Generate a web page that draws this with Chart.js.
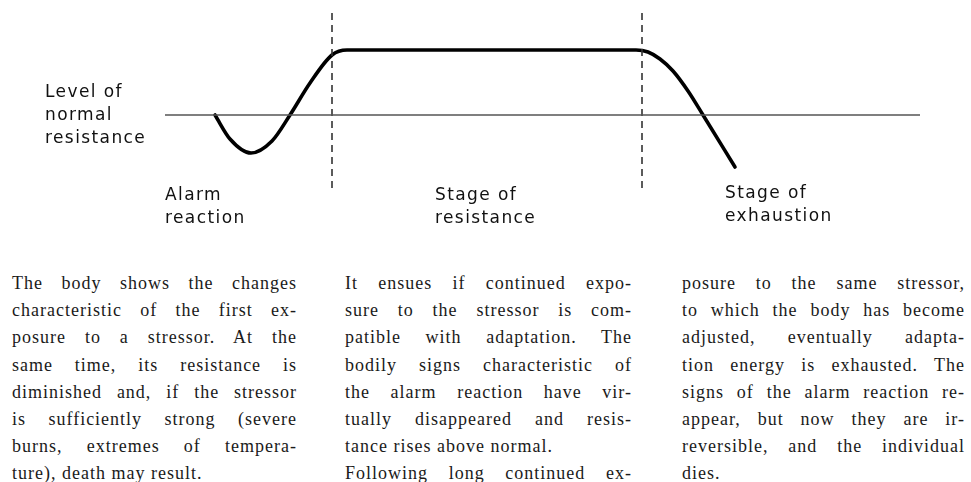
<!DOCTYPE html>
<html>
<head>
<meta charset="utf-8">
<script src="https://cdn.jsdelivr.net/npm/chart.js@4"></script>
<style>
    body { margin: 0; background: #fff; }
    #wrap { position: relative; width: 971px; height: 482px; overflow: hidden; }
    #chart { position: absolute; left: 0; top: 0; }
    .lbl {
        position: absolute;
        font-family: 'DejaVu Sans', sans-serif;
        font-size: 17px;
        letter-spacing: 1.4px;
        line-height: 23px;
        color: #111;
        white-space: nowrap;
    }
    .col {
        position: absolute;
        top: 270px;
        font-family: 'Liberation Serif', 'Times New Roman', serif;
        font-size: 18px;
        letter-spacing: 1px;
        line-height: 27.2px;
        color: #1a1a1a;
    }
    .col div { text-align: justify; text-align-last: justify; white-space: nowrap; }
    .col div.last { text-align-last: left; }
</style>
</head>
<body>
<div id="wrap">
    <canvas id="chart" width="971" height="235"></canvas>

    <div class="lbl" style="left:45px; top:80px;">Level of<br>normal<br>resistance</div>
    <div class="lbl" style="left:165px; top:183px;">Alarm<br>reaction</div>
    <div class="lbl" style="left:435px; top:183px;">Stage of<br>resistance</div>
    <div class="lbl" style="left:725px; top:181px;">Stage of<br>exhaustion</div>

    <div class="col" id="col1" style="left:12px; width:285px;"></div>
    <div class="col" id="col2" style="left:345px; width:287px;"></div>
    <div class="col" id="col3" style="left:682px; width:283px;"></div>
</div>
<script>
// resistance curve, time on x, resistance relative to normal level on y
const curveTime = [215, 230, 251, 272, 290, 310, 332, 347, 500, 636, 648, 660, 673, 688, 703, 735];
const curveLevel = [0, -24, -38, -26, 0, 32, 60, 65, 65, 65, 63, 56, 44, 24, 0, -52];

const normalLevel = 0;
const normalSpan = [165, 920];

const stageBounds = [332, 642];
const boundSpan = [102, -75];

const col1Lines = [
    'The body shows the changes',
    'characteristic of the first ex-',
    'posure to a stressor. At the',
    'same time, its resistance is',
    'diminished and, if the stressor',
    'is sufficiently strong (severe',
    'burns, extremes of tempera-',
    'ture), death may result.',
];
const col2Lines = [
    'It ensues if continued expo-',
    'sure to the stressor is com-',
    'patible with adaptation. The',
    'bodily signs characteristic of',
    'the alarm reaction have vir-',
    'tually disappeared and resis-',
    'tance rises above normal.',
    'Following long continued ex-',
];
const col3Lines = [
    'posure to the same stressor,',
    'to which the body has become',
    'adjusted, eventually adapta-',
    'tion energy is exhausted. The',
    'signs of the alarm reaction re-',
    'appear, but now they are ir-',
    'reversible, and the individual',
    'dies.',
];

function fillColumn(id, lines, lastIdx) {
    const el = document.getElementById(id);
    lines.forEach((t, i) => {
        const d = document.createElement('div');
        d.textContent = t;
        if (lastIdx.includes(i)) d.className = 'last';
        el.appendChild(d);
    });
}
fillColumn('col1', col1Lines, [7]);
fillColumn('col2', col2Lines, [6]);
fillColumn('col3', col3Lines, [7]);

const curve = curveTime.map((t, i) => ({ x: t, y: curveLevel[i] }));
const normal = normalSpan.map(x => ({ x, y: normalLevel }));

const boundSets = stageBounds.map(x => ({
    data: boundSpan.map(y => ({ x, y })),
    borderColor: '#333',
    borderWidth: 1.6,
    borderDash: [7, 5],
    pointRadius: 0,
    tension: 0,
}));

new Chart(document.getElementById('chart'), {
    type: 'line',
    data: {
        datasets: [
            {
                data: normal,
                borderColor: '#555',
                borderWidth: 1.6,
                pointRadius: 0,
                tension: 0,
            },
            ...boundSets,
            {
                data: curve,
                borderColor: '#000',
                borderWidth: 3.6,
                pointRadius: 0,
                cubicInterpolationMode: 'monotone',
                borderCapStyle: 'round',
                borderJoinStyle: 'round',
            },
        ],
    },
    options: {
        responsive: false,
        animation: false,
        layout: { padding: 0 },
        plugins: {
            legend: { display: false },
            tooltip: { enabled: false },
        },
        scales: {
            x: { type: 'linear', min: 0, max: 971, display: false },
            y: { min: -120, max: 115, display: false },
        },
    },
});
</script>
</body>
</html>
